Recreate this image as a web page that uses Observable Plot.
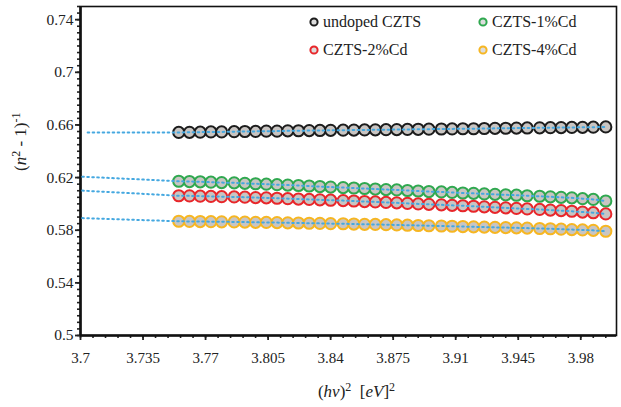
<!DOCTYPE html>
<html><head><meta charset="utf-8">
<script src="https://cdn.jsdelivr.net/npm/d3@7"></script>
<script src="https://cdn.jsdelivr.net/npm/@observablehq/plot@0.6"></script>
<style>
body{margin:0;background:#fff;}
#wrap{position:relative;width:621px;height:407px;font-family:"Liberation Serif",serif;}
.leg{position:absolute;font-size:16px;color:#222;display:flex;align-items:center;white-space:nowrap;line-height:16px;}
.leg svg{margin-right:4px;}
</style></head><body><div id="wrap"></div>
<script>
// photon energy squared, (hν)² [eV]²
const xs = [3.755,3.761,3.767,3.773,3.779,3.786,3.792,3.798,3.804,3.810,3.816,3.822,3.828,3.834,3.840,3.847,3.853,3.859,3.865,3.871,3.877,3.883,3.889,3.895,3.902,3.908,3.914,3.920,3.926,3.932,3.938,3.944,3.950,3.957,3.963,3.969,3.975,3.981,3.987,3.994];
const undopedY = [0.6543,0.6544,0.6545,0.6547,0.6547,0.6549,0.6550,0.6551,0.6553,0.6553,0.6555,0.6556,0.6557,0.6558,0.6559,0.6560,0.6561,0.6562,0.6563,0.6564,0.6565,0.6566,0.6567,0.6568,0.6569,0.6570,0.6571,0.6571,0.6573,0.6574,0.6575,0.6576,0.6577,0.6578,0.6579,0.6580,0.6581,0.6582,0.6583,0.6585];
const cd1Y = [0.6172,0.6170,0.6168,0.6165,0.6162,0.6160,0.6156,0.6153,0.6150,0.6146,0.6143,0.6140,0.6136,0.6132,0.6128,0.6124,0.6121,0.6117,0.6113,0.6109,0.6106,0.6102,0.6098,0.6094,0.6091,0.6087,0.6083,0.6080,0.6076,0.6073,0.6069,0.6066,0.6062,0.6058,0.6054,0.6050,0.6046,0.6040,0.6034,0.6022];
const cd2Y = [0.6062,0.6061,0.6059,0.6057,0.6055,0.6053,0.6051,0.6048,0.6046,0.6043,0.6040,0.6037,0.6034,0.6031,0.6028,0.6025,0.6022,0.6018,0.6015,0.6011,0.6008,0.6004,0.6000,0.5997,0.5993,0.5989,0.5986,0.5982,0.5978,0.5974,0.5970,0.5966,0.5962,0.5958,0.5953,0.5949,0.5944,0.5938,0.5933,0.5924];
const cd4Y = [0.5868,0.5867,0.5866,0.5865,0.5864,0.5863,0.5862,0.5860,0.5859,0.5858,0.5856,0.5855,0.5853,0.5852,0.5850,0.5849,0.5847,0.5845,0.5844,0.5842,0.5840,0.5838,0.5836,0.5834,0.5832,0.5830,0.5828,0.5826,0.5824,0.5822,0.5820,0.5818,0.5816,0.5813,0.5811,0.5808,0.5805,0.5802,0.5799,0.5792];
const seriesNames = ["undoped CZTS","CZTS-1%Cd","CZTS-2%Cd","CZTS-4%Cd"];
const seriesValues = [undopedY, cd1Y, cd2Y, cd4Y];
// extrapolation start points of the dotted trend lines
const extX = [3.704, 3.701, 3.701, 3.701];
const extY = [0.6543, 0.6207, 0.6101, 0.5892];
const xTicks = [3.7,3.735,3.77,3.805,3.84,3.875,3.91,3.945,3.98];
const yTicks = [0.5,0.54,0.58,0.62,0.66,0.7,0.74];
const xMinor = d3.range(0,43).map(i => +(3.7 + i*0.007).toFixed(3));
const yMinor = d3.range(0,51).map(i => +(0.5 + i*0.005).toFixed(3));

const colors = ["#1c1c1c","#2fa84f","#e8262a","#f6b622"];

const points = [];
seriesNames.forEach((s,k) => xs.forEach((x,i) => points.push({series:s, x, y:seriesValues[k][i]})));
const lines = [];
seriesNames.forEach((s,k) => {
  lines.push({series:s, x:extX[k], y:extY[k]});
  xs.forEach((x,i) => lines.push({series:s, x, y:seriesValues[k][i]}));
});

const plot = Plot.plot({
  width: 621, height: 407,
  marginLeft: 80, marginRight: 5, marginTop: 6, marginBottom: 72,
  style: {fontFamily: '"Liberation Serif", serif', fontSize: "15px", color: "#222", background: "#fff"},
  x: {domain: [3.7, 4.0]},
  y: {domain: [0.5, 0.75]},
  color: {domain: seriesNames, range: colors},
  marks: [
    Plot.frame({stroke: "#111", strokeWidth: 1.6}),
    Plot.axisX(xMinor, {tickSize: 3, tickFormat: () => "", strokeWidth: 1.6, label: null}),
    Plot.axisX(xTicks, {tickSize: 5, tickPadding: 12, tickFormat: d => String(d), strokeWidth: 1.8, label: null, fontSize: 15}),
    Plot.axisY(yMinor, {tickSize: 3, tickFormat: () => "", strokeWidth: 1.6, label: null}),
    Plot.axisY(yTicks, {tickSize: 5, tickPadding: 2, tickFormat: d => String(d), strokeWidth: 1.8, label: null, fontSize: 15.5}),
    Plot.ruleX([3.7], {stroke: "#111", strokeWidth: 2.6}),
    Plot.ruleY([0.5], {stroke: "#111", strokeWidth: 2.6}),
    Plot.dot(points, {x: "x", y: "y", r: 5.6, fill: "#c9c5c2", stroke: "series", strokeWidth: 2}),
    Plot.line(lines, {x: "x", y: "y", z: "series", stroke: "#45a8e0", strokeWidth: 2, strokeDasharray: "1.6,3.4"}),
    Plot.text(["__YT__"], {frameAnchor: "left", dx: -60, rotate: -90, fontSize: 17, text: d => d}),
    Plot.text(["__XT__"], {frameAnchor: "bottom", dy: 61, dx: 8, fontSize: 17, text: d => d})
  ]
});

const svg = d3.select(plot);
svg.selectAll("text").each(function() {
  const t = d3.select(this);
  const c = this.textContent;
  if (c === "__YT__") {
    t.text(null);
    t.append("tspan").text("(");
    t.append("tspan").attr("font-style","italic").text("n");
    t.append("tspan").attr("dy",-6).attr("font-size",12).text("2");
    t.append("tspan").attr("dy",6).text(" - 1)");
    t.append("tspan").attr("dy",-6).attr("font-size",12).text("-1");
  } else if (c === "__XT__") {
    t.text(null);
    t.append("tspan").text("(");
    t.append("tspan").attr("font-style","italic").text("hν");
    t.append("tspan").text(")");
    t.append("tspan").attr("dy",-6).attr("font-size",12).text("2");
    t.append("tspan").attr("dy",6).text("\u00a0\u00a0[");
    t.append("tspan").attr("font-style","italic").text("eV");
    t.append("tspan").text("]");
    t.append("tspan").attr("dy",-6).attr("font-size",12).text("2");
  }
});

const wrap = document.getElementById("wrap");
wrap.appendChild(plot);

const legPos = [[309,14],[478,14],[309,42],[478,42]];
seriesNames.forEach((s,k) => {
  const d = document.createElement("div");
  d.className = "leg";
  d.style.left = legPos[k][0] + "px";
  d.style.top = legPos[k][1] + "px";
  d.innerHTML = `<svg width="10" height="10"><circle cx="5" cy="5" r="3.6" fill="#ddd" stroke="${colors[k]}" stroke-width="2"/></svg><span>${s}</span>`;
  wrap.appendChild(d);
});
</script>
</body></html>
